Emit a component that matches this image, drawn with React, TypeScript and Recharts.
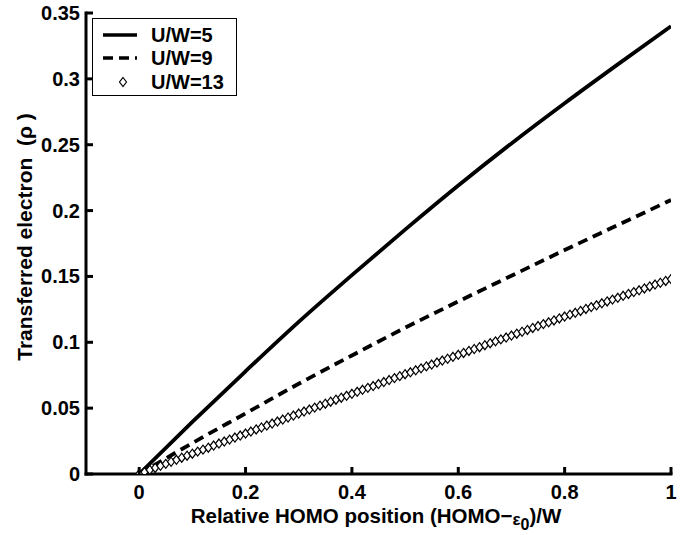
import {
  ComposedChart,
  Label,
  Legend,
  Line,
  Scatter,
  XAxis,
  YAxis,
} from "recharts";

const FONT = "'Liberation Sans', Arial, Helvetica, sans-serif";

// coarse grid for the two continuous curves
const X_COARSE = [0, 0.1, 0.2, 0.3, 0.4, 0.5, 0.6, 0.7, 0.8, 0.9, 1];
const U5 = [0, 0.0395, 0.078, 0.1155, 0.151, 0.1855, 0.219, 0.251, 0.2815, 0.311, 0.34];
const U9 = [0, 0.0235, 0.046, 0.0685, 0.09, 0.111, 0.131, 0.1505, 0.17, 0.189, 0.208];

// U/W=13 markers, one every 0.01
const X_FINE_STEP = 0.01;
const U13 = [
  0, 0.0015, 0.0031, 0.0046, 0.0062, 0.0077, 0.0093, 0.0108, 0.0124, 0.0139,
  0.0154, 0.017, 0.0185, 0.02, 0.0216, 0.0231, 0.0246, 0.0261, 0.0277, 0.0292,
  0.0307, 0.0322, 0.0338, 0.0353, 0.0368, 0.0383, 0.0398, 0.0413, 0.0429, 0.0444,
  0.0459, 0.0474, 0.0489, 0.0504, 0.0519, 0.0534, 0.0549, 0.0564, 0.0579, 0.0594,
  0.0609, 0.0624, 0.0639, 0.0654, 0.0668, 0.0683, 0.0698, 0.0713, 0.0728, 0.0743,
  0.0758, 0.0772, 0.0787, 0.0802, 0.0817, 0.0831, 0.0846, 0.0861, 0.0875, 0.089,
  0.0905, 0.0919, 0.0934, 0.0949, 0.0963, 0.0978, 0.0993, 0.1007, 0.1022, 0.1036,
  0.1051, 0.1065, 0.108, 0.1094, 0.1109, 0.1123, 0.1138, 0.1152, 0.1166, 0.1181,
  0.1195, 0.121, 0.1224, 0.1238, 0.1253, 0.1267, 0.1281, 0.1296, 0.131, 0.1324,
  0.1338, 0.1353, 0.1367, 0.1381, 0.1395, 0.1409, 0.1424, 0.1438, 0.1452, 0.1466,
  0.148,
];

const X_TICKS = [0, 0.2, 0.4, 0.6, 0.8, 1];
const Y_TICKS = [0, 0.05, 0.1, 0.15, 0.2, 0.25, 0.3, 0.35];
const SERIES_NAMES = ["U/W=5", "U/W=9", "U/W=13"];

const u5Data = X_COARSE.map((x, i) => ({ x, y: U5[i] }));
const u9Data = X_COARSE.map((x, i) => ({ x, y: U9[i] }));
const u13Data = U13.map((y, i) => ({ x: i * X_FINE_STEP, y }));

const AXIS_LINE = { stroke: "#000", strokeWidth: 3, strokeLinecap: "square" as const };
const TICK_LEN = 7;

function BottomTick({ x, y, payload }: any) {
  return (
    <g>
      <line x1={x} x2={x} y1={y} y2={y - TICK_LEN} stroke="#000" strokeWidth={3} />
      <text x={x} y={y + 25} textAnchor="middle" fontSize={20} fontWeight="bold" fontFamily={FONT} fill="#000">
        {String(payload.value)}
      </text>
    </g>
  );
}

function TopTick({ x, y }: any) {
  return <line x1={x} x2={x} y1={y} y2={y + TICK_LEN} stroke="#000" strokeWidth={3} />;
}

function LeftTick({ x, y, payload }: any) {
  return (
    <g>
      <line x1={x} x2={x + TICK_LEN} y1={y} y2={y} stroke="#000" strokeWidth={3} />
      <text x={x - 6} y={y + 7} textAnchor="end" fontSize={20} fontWeight="bold" fontFamily={FONT} fill="#000">
        {String(payload.value)}
      </text>
    </g>
  );
}

function RightTick({ x, y }: any) {
  return <line x1={x} x2={x - TICK_LEN} y1={y} y2={y} stroke="#000" strokeWidth={3} />;
}

function Diamond({ cx, cy }: any) {
  if (cx == null || cy == null) return null;
  return (
    <polygon
      points={`${cx},${cy - 4.5} ${cx + 3.5},${cy} ${cx},${cy + 4.5} ${cx - 3.5},${cy}`}
      fill="#fff"
      stroke="#000"
      strokeWidth={1.2}
    />
  );
}

function XTitle() {
  return (
    <text x={376} y={523} textAnchor="middle" fontSize={20.5} fontWeight="bold" fontFamily={FONT} fill="#000">
      Relative HOMO position (HOMO−
      <tspan fontSize={17} dy={2}>ε</tspan>
      <tspan fontSize={16} dy={5}>0</tspan>
      <tspan dy={-7}>)/W</tspan>
    </text>
  );
}

function YTitle() {
  return (
    <text
      x={0}
      y={0}
      transform="translate(32,237) rotate(-90)"
      textAnchor="middle"
      fontSize={21}
      fontWeight="bold"
      fontFamily={FONT}
      fill="#000"
      style={{ whiteSpace: "pre" }}
    >
      Transferred electron  (ρ )
    </text>
  );
}

function LegendBox() {
  const rows = [17, 40, 64];
  return (
    <svg width={145} height={78} style={{ display: "block" }}>
      <rect x={0.5} y={0.5} width={144} height={77} fill="#fff" stroke="#000" strokeWidth={1} />
      <line x1={11} x2={45} y1={rows[0]} y2={rows[0]} stroke="#000" strokeWidth={3.5} />
      <line x1={11} x2={45} y1={rows[1]} y2={rows[1]} stroke="#000" strokeWidth={3.5} strokeDasharray="10 6" />
      <Diamond cx={31} cy={rows[2]} />
      {SERIES_NAMES.map((name, i) => (
        <text key={name} x={59} y={rows[i] + 7} fontSize={20} fontWeight="bold" fontFamily={FONT} fill="#000">
          {name}
        </text>
      ))}
    </svg>
  );
}

export default function App() {
  return (
    <div style={{ position: "absolute", left: 0, top: 0, background: "#fff" }}>
      <ComposedChart width={694} height={535} margin={{ top: 13, right: 23, bottom: 0, left: 0 }}>
        <XAxis
          xAxisId="b"
          type="number"
          dataKey="x"
          domain={[-0.1, 1]}
          ticks={X_TICKS}
          allowDataOverflow
          height={61}
          tickSize={0}
          tickMargin={0}
          tickLine={false}
          axisLine={AXIS_LINE}
          tick={<BottomTick />}
        >
          <Label content={<XTitle />} />
        </XAxis>
        <XAxis
          xAxisId="t"
          orientation="top"
          type="number"
          dataKey="x"
          domain={[-0.1, 1]}
          ticks={X_TICKS}
          allowDataOverflow
          height={0}
          tickSize={0}
          tickMargin={0}
          tickLine={false}
          axisLine={AXIS_LINE}
          tick={<TopTick />}
        />
        <YAxis
          yAxisId="l"
          type="number"
          domain={[0, 0.35]}
          ticks={Y_TICKS}
          allowDataOverflow
          width={86}
          tickSize={0}
          tickMargin={0}
          tickLine={false}
          axisLine={AXIS_LINE}
          tick={<LeftTick />}
        >
          <Label content={<YTitle />} />
        </YAxis>
        <YAxis
          yAxisId="r"
          orientation="right"
          type="number"
          domain={[0, 0.35]}
          ticks={Y_TICKS}
          allowDataOverflow
          width={0}
          tickSize={0}
          tickMargin={0}
          tickLine={false}
          axisLine={AXIS_LINE}
          tick={<RightTick />}
        />
        <Line
          xAxisId="b"
          yAxisId="l"
          data={u5Data}
          dataKey="y"
          name={SERIES_NAMES[0]}
          type="monotone"
          stroke="#000"
          strokeWidth={3.8}
          dot={false}
          activeDot={false}
          isAnimationActive={false}
        />
        <Line
          xAxisId="b"
          yAxisId="l"
          data={u9Data}
          dataKey="y"
          name={SERIES_NAMES[1]}
          type="monotone"
          stroke="#000"
          strokeWidth={3.8}
          strokeDasharray="10 6"
          dot={false}
          activeDot={false}
          isAnimationActive={false}
        />
        <Scatter
          xAxisId="b"
          yAxisId="l"
          data={u13Data}
          dataKey="y"
          name={SERIES_NAMES[2]}
          shape={<Diamond />}
          isAnimationActive={false}
        />
        <Legend
          layout="vertical"
          verticalAlign="middle"
          align="center"
          width={145}
          height={78}
          wrapperStyle={{ left: 92, top: 18, width: 145, height: 78 }}
          content={<LegendBox />}
        />
      </ComposedChart>
    </div>
  );
}
